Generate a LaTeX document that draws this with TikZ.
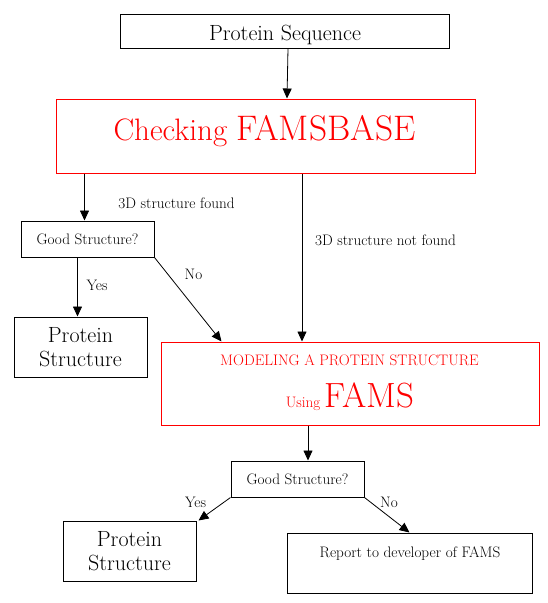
\documentclass[tikz,border=0pt]{standalone}
\usetikzlibrary{arrows.meta}

\tikzset{
  box/.style={draw=black, line width=1pt, inner sep=0pt},
  redbox/.style={draw=red, line width=1pt, inner sep=0pt},
  flow/.style={line width=0.8pt, -{Triangle[length=10pt,width=9pt]}},
  small/.style={font=\fontsize{15.2}{18}\selectfont, inner sep=0pt},
  big/.style={font=\fontsize{22}{24}\selectfont, align=center, inner sep=0pt}
}

\begin{document}
\begin{tikzpicture}[x=1pt,y=-1pt]
\useasboundingbox (0,0) rectangle (547,603);

% draw Protein Sequence
\node[box, minimum width=329pt, minimum height=34pt] (seq) at (284.5,31) {};
\node[big, anchor=base] (seqtext) at (285,40) {Protein Sequence};

% draw Checking FAMSBASE
\node[redbox, minimum width=419pt, minimum height=74pt] (famsbase) at (265.5,136) {};
\node[anchor=base, text=red, inner sep=0pt] (famsbasetext) at (264.5,140) {\fontsize{31}{36}\selectfont Checking \fontsize{35.5}{42}\selectfont FAMSBASE};

% draw first check
\node[box, small, minimum width=133pt, minimum height=36pt] (good1) at (87.5,239) {Good Structure?};
\node[box, big, minimum width=133pt, minimum height=60pt] (ps1) at (80.5,347) {Protein\\Structure};

% draw modeling with FAMS
\node[redbox, minimum width=378pt, minimum height=83pt] (model) at (350,383.5) {};
\node[small, anchor=base, text=red] (modeltext) at (349.5,365) {MODELING A PROTEIN STRUCTURE};
\node[anchor=base, text=red, inner sep=0pt] (usingtext) at (350,407) {\fontsize{15.2}{18}\selectfont Using \fontsize{35}{42}\selectfont FAMS};

% draw second check
\node[box, small, minimum width=133pt, minimum height=36pt] (good2) at (297.5,479) {Good Structure?};
\node[box, big, minimum width=133pt, minimum height=60pt] (ps2) at (129.5,551) {Protein\\Structure};
\node[box, minimum width=245pt, minimum height=60pt] (rep) at (409.5,563) {};
\node[small, anchor=base] (reptext) at (410,557) {Report to developer of FAMS};

% draw arrows
\draw[flow] ([xshift=3.5pt]seq.south) -- ([xshift=21.5pt]famsbase.north);
\draw[flow] ([xshift=-3pt]good1.north |- famsbase.south) -- ([xshift=-3pt]good1.north);
\draw[flow] ([xshift=-48pt]model.north |- famsbase.south) -- ([xshift=-48pt]model.north);
\draw[flow] ([xshift=-10pt]good1.south) -- ([xshift=-10pt]good1.south |- ps1.north);
\draw[flow] (good1.south east) -- ([xshift=61pt]model.north west);
\draw[flow] ([xshift=10.5pt]good2.north |- model.south) -- ([xshift=10.5pt]good2.north);
\draw[flow] (good2.south west) -- ([xshift=2pt]ps2.north east);
\draw[flow] (good2.south east) -- (rep.north);

% draw labels
\node[small, anchor=base] (found) at (176.5,208) {3D structure found};
\node[small, anchor=base] (notfound) at (385.5,245) {3D structure not found};
\node[small, anchor=base] (yes1) at (97,290) {Yes};
\node[small, anchor=base] (no1) at (193.5,279) {No};
\node[small, anchor=base] (yes2) at (195.5,507) {Yes};
\node[small, anchor=base] (no2) at (389,507) {No};

\end{tikzpicture}
\end{document}
